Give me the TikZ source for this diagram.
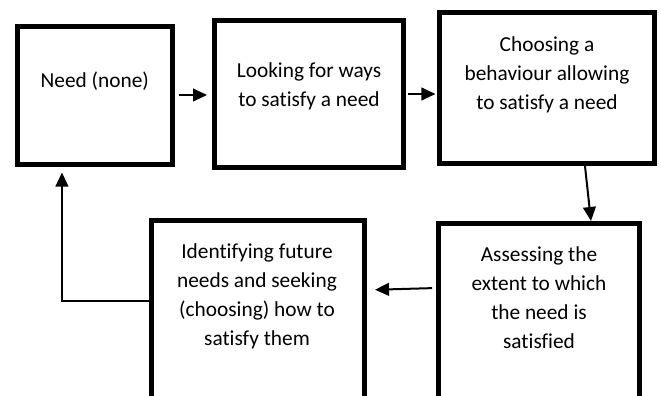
\documentclass[tikz,border=0pt]{standalone}
\usepackage{fontspec}
\setmainfont{Carlito}[Ligatures=NoCommon]
\usetikzlibrary{arrows.meta}

\tikzset{
    stagebox/.style={draw, rectangle, line width=3.75pt, inner sep=0pt},
    stagetext/.style={align=center, anchor=base, inner sep=0pt,
        font=\fontsize{16pt}{21.75pt}\selectfont},
    flow/.style={line width=1.5pt, -{Triangle[length=10.5pt,width=9.5pt]}}
}

\begin{document}
\begin{tikzpicture}[x=0.75pt,y=-0.75pt]
        % Page size:
        % The lower boxes run off the bottom edge, so the picture is clipped
        \useasboundingbox (0,0) rectangle (661,396);
        \clip (0,0) rectangle (661,396);

        % Boxes:
        % Empty nodes, the numbers are the centres of the borders
        \node [stagebox, minimum width=115.9pt, minimum height=103.5pt] (b1) at (94.75,95) {};
        \node [stagebox, minimum width=142.1pt, minimum height=110.25pt] (b2) at (309.25,94) {};
        \node [stagebox, minimum width=160.9pt, minimum height=113.25pt] (b3) at (547.25,88) {};
        \node [stagebox, minimum width=151.1pt, minimum height=147.4pt] (b4) at (539.25,321.75) {};
        \node [stagebox, minimum width=159.75pt, minimum height=149.6pt] (b5) at (258,320.25) {};

        % Texts:
        % Sit near the top of each box, placed by the baseline of the last line
        \node [stagetext] (t1) at (94.75,87.5) {Need (none)};
        \node [stagetext] (t2) at (309,106.5) {Looking for ways\\to satisfy a need};
        \node [stagetext] (t3) at (547,109.8) {Choosing a\\behaviour allowing\\to satisfy a need};
        \node [stagetext] (t4) at (539,348.5) {Assessing the\\extent to which\\the need is\\satisfied};
        \node [stagetext] (t5) at (257,345.5) {Identifying future\\needs and seeking\\(choosing) how to\\satisfy them};

        % Arrows:
        \draw [flow, shorten <=3pt, shorten >=3.75pt] (b1.east) -- (b1.east -| b2.west);
        \draw [flow, shorten <=1.5pt, shorten >=1.5pt] (b2.east) -- (b2.east -| b3.west);
        \draw [flow] ([xshift=28.3pt]b3.south) -- ([xshift=38.8pt]b4.north);
        \draw [flow, shorten <=3pt, shorten >=6pt] ([yshift=25.3pt]b4.west) -- ([yshift=22.7pt]b5.east);
        % back to the start: out of the left side, then up
        \draw [flow, shorten >=4.5pt] ([yshift=14.4pt]b5.west) -| ([xshift=-24.6pt]b1.south);
\end{tikzpicture}
\end{document}
